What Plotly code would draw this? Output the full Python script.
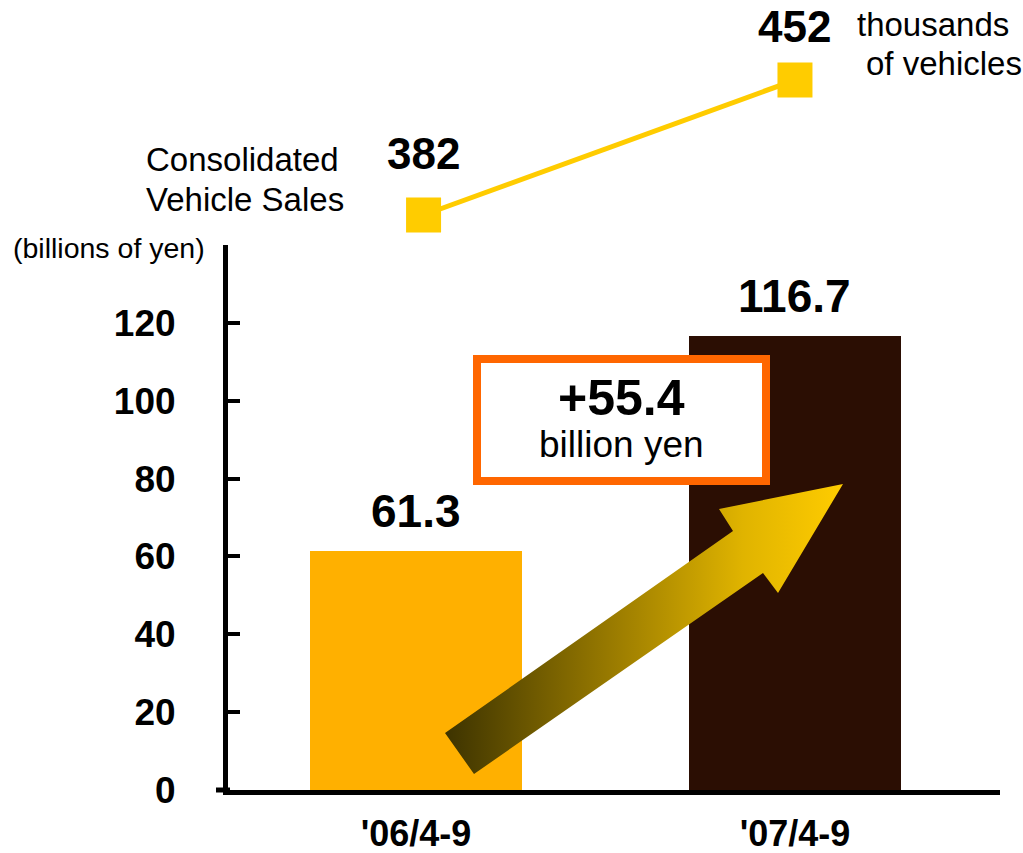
import base64
import plotly.graph_objects as go

# ---- data ----
periods = ["'06/4-9", "'07/4-9"]
operating_income = [61.3, 116.7]          # billions of yen
vehicle_sales = [382, 452]                # thousands of vehicles
y_ticks = [0, 20, 40, 60, 80, 100, 120]
increase_text = "+55.4"
increase_unit = "billion yen"

W, H = 1023, 853
ML, MR, MT, MB = 228, 23, 0, 63
PW, PH = W - ML - MR, H - MT - MB


def px(x):
    return (x - ML) / PW


def py(y):
    return (H - MB - y) / PH


fig = go.Figure()

fig.add_trace(go.Bar(
    x=[0, 1], y=operating_income, width=0.56,
    marker=dict(color=["#FFB000", "#2B0E03"], line=dict(width=0)),
    showlegend=False, hoverinfo="skip",
))

line_x = [0.02, 1.0]
fig.add_trace(go.Scatter(
    x=line_x, y=vehicle_sales, yaxis="y2", mode="lines+markers",
    line=dict(color="#FFCC00", width=5),
    marker=dict(symbol="square", size=35, color="#FFCC00"),
    cliponaxis=False, showlegend=False, hoverinfo="skip",
))

ann = []
bold_big = dict(family="Liberation Sans", size=46, color="black", weight="bold")
for i, v in enumerate(operating_income):
    ann.append(dict(x=i, y=v, xref="x", yref="y", text=f"{v:.1f}", showarrow=False,
                    yanchor="middle", yshift=40, font=bold_big))
for i, v in enumerate(vehicle_sales):
    ann.append(dict(x=line_x[i], y=v, xref="x", yref="y2", text=f"{v}", showarrow=False,
                    yanchor="middle", yshift=[62, 54][i],
                    font=dict(family="Liberation Sans", size=44, color="black", weight="bold")))

narrow = dict(family="Liberation Sans", size=33, color="black")
ann += [
    dict(x=px(855), y=py(24), xref="paper", yref="paper", text="thousands", showarrow=False,
         xanchor="left", yanchor="middle", font=narrow),
    dict(x=px(864), y=py(64), xref="paper", yref="paper", text="of vehicles", showarrow=False,
         xanchor="left", yanchor="middle", font=narrow),
    dict(x=px(242), y=py(160), xref="paper", yref="paper", text="Consolidated", showarrow=False,
         xanchor="center", yanchor="middle", font=narrow),
    dict(x=px(245), y=py(199), xref="paper", yref="paper", text="Vehicle Sales", showarrow=False,
         xanchor="center", yanchor="middle", font=narrow),
    dict(x=px(109), y=py(248), xref="paper", yref="paper", text="(billions of yen)", showarrow=False,
         xanchor="center", yanchor="middle",
         font=dict(family="Liberation Sans", size=28.5, color="black")),
    dict(x=px(621), y=py(398), xref="paper", yref="paper", text=increase_text, showarrow=False,
         xanchor="center", yanchor="middle",
         font=dict(family="Liberation Sans", size=50, color="black", weight="bold")),
    dict(x=px(621), y=py(444), xref="paper", yref="paper", text=increase_unit, showarrow=False,
         xanchor="center", yanchor="middle",
         font=dict(family="Liberation Sans", size=37, color="black")),
]

shapes = [
    dict(type="rect", xref="paper", yref="paper", x0=px(477), x1=px(766), y0=py(481), y1=py(359),
         fillcolor="white", line=dict(color="#FF6600", width=8), layer="above"),
    dict(type="line", xref="paper", yref="paper", x0=px(216), x1=px(230), y0=py(790), y1=py(790),
         line=dict(color="black", width=5)),
]

# gradient arrow as inline SVG
pts = [(445, 733), (733, 531), (719, 509), (843, 484), (778, 593), (763, 573), (474, 774)]
bx0, by0, bw, bh = 440, 478, 410, 302
poly = " ".join(f"{x},{y}" for x, y in pts)
svg = (f'<svg xmlns="http://www.w3.org/2000/svg" width="{bw}" height="{bh}" '
       f'viewBox="{bx0} {by0} {bw} {bh}" preserveAspectRatio="none">'
       '<defs><linearGradient id="g" gradientUnits="userSpaceOnUse" x1="445" y1="0" x2="843" y2="0">'
       '<stop offset="0" stop-color="#3D3300"/><stop offset="0.45" stop-color="#A08000"/>'
       '<stop offset="0.75" stop-color="#E0B400"/><stop offset="1" stop-color="#FFCC00"/>'
       '</linearGradient></defs>'
       f'<polygon points="{poly}" fill="url(#g)"/></svg>')
src = "data:image/svg+xml;base64," + base64.b64encode(svg.encode()).decode()

fig.update_layout(
    width=W, height=H, margin=dict(l=ML, r=MR, t=MT, b=MB, autoexpand=False),
    paper_bgcolor="white", plot_bgcolor="white",
    bargap=0,
    xaxis=dict(range=[-0.496, 1.541], tickvals=[0, 1], ticktext=periods,
               showline=True, linecolor="black", linewidth=5, ticks="",
               showgrid=False, zeroline=False, ticklabelstandoff=8, automargin=False,
               tickfont=dict(family="Liberation Sans", size=36, color="black", weight="bold")),
    yaxis=dict(domain=[0, py(245)], range=[0, 140], tickvals=y_ticks,
               showline=True, linecolor="black", linewidth=5,
               ticks="inside", ticklen=12, tickwidth=4, tickcolor="black",
               showgrid=False, zeroline=False, ticklabelstandoff=40, automargin=False,
               tickfont=dict(family="Liberation Sans", size=37, color="black", weight="bold")),
    yaxis2=dict(domain=[0.70, 1], anchor="x", range=[370.6, 493.5], visible=False,
                showgrid=False, zeroline=False, automargin=False),
    annotations=ann, shapes=shapes,
    images=[dict(source=src, xref="paper", yref="paper", x=px(bx0), y=py(by0),
                 sizex=bw / PW, sizey=bh / PH, xanchor="left", yanchor="top",
                 sizing="stretch", layer="above")],
)

fig.write_html("out.html", config={"displayModeBar": False},
               post_script="document.body.style.margin='0';document.body.style.overflow='hidden';")
